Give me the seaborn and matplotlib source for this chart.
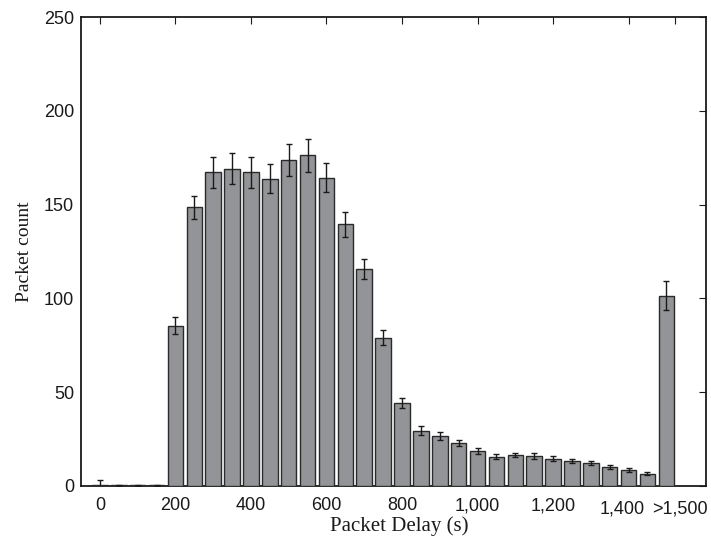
import matplotlib
matplotlib.use("Agg")
import matplotlib.pyplot as plt
from matplotlib.transforms import ScaledTranslation
import seaborn as sns
import pandas as pd

delays = [0, 50, 100, 150, 200, 250, 300, 350, 400, 450, 500, 550, 600, 650, 700,
          750, 800, 850, 900, 950, 1000, 1050, 1100, 1150, 1200, 1250, 1300, 1350,
          1400, 1450, 1500]
counts = [0.6, 0.4, 0.4, 0.4, 85.5, 148.5, 167.2, 169.1, 167.2, 163.8, 173.8, 176.3,
          164.3, 139.5, 115.7, 79.0, 44.4, 29.5, 26.5, 23.1, 18.7, 15.6, 16.4, 16.0,
          14.6, 13.2, 12.3, 10.1, 8.4, 6.6, 101.4]
errors = [2.5, 0.3, 0.3, 0.3, 4.4, 6.2, 8.3, 8.2, 8.3, 7.8, 8.3, 8.7, 7.8, 6.7, 5.4,
          4.0, 2.6, 2.4, 2.2, 1.6, 1.5, 1.4, 1.2, 1.5, 1.2, 1.1, 1.2, 1.0, 1.0, 0.9, 7.8]

xtick_pos = [0, 200, 400, 600, 800, 1000, 1200, 1400, 1522]
xtick_labels = ["0", "200", "400", "600", "800", "1,000", "1,200", "1,400", ">1,500"]
ytick_pos = [0, 50, 100, 150, 200, 250]

sns.set_style("white")
plt.rcParams["font.family"] = ["Liberation Sans", "DejaVu Sans"]

df = pd.DataFrame({"delay": delays, "count": counts})

fig = plt.figure(figsize=(7.11, 5.47), dpi=100)
ax = fig.add_axes([81 / 711, 1 - 486 / 547, (706 - 81) / 711, (486 - 17) / 547])

sns.barplot(data=df, x="delay", y="count", native_scale=True, errorbar=None,
            color="#929497", saturation=1, width=0.82, edgecolor="#2a2a2a",
            linewidth=1.0, ax=ax, zorder=3)
ax.errorbar(delays, counts, yerr=errors, fmt="none", ecolor="#1a1a1a",
            elinewidth=1.0, capsize=2.2, capthick=1.0, zorder=4)

ax.set_xlim(-50, 1605)
ax.set_ylim(0, 250)
ax.set_xticks(xtick_pos)
ax.set_xticklabels(xtick_labels)
ax.set_yticks(ytick_pos)
ax.set_yticklabels([str(v) for v in ytick_pos])

ax.tick_params(axis="x", which="both", direction="in", length=5, top=True,
               bottom=False, labeltop=False, labelbottom=True, labelsize=13,
               pad=8, colors="#1a1a1a")
ax.tick_params(axis="y", direction="in", length=5, right=True, labelsize=13,
               pad=5, colors="#1a1a1a")

for s in ax.spines.values():
    s.set_linewidth(1.3)
    s.set_color("#1a1a1a")
    s.set_visible(True)

labels = ax.get_xticklabels()
labels[-2].set_transform(labels[-2].get_transform() +
                         ScaledTranslation(-6 / 100, -3 / 100, fig.dpi_scale_trans))
labels[-1].set_transform(labels[-1].get_transform() +
                         ScaledTranslation(5 / 100, -3 / 100, fig.dpi_scale_trans))

ax.set_xlabel("Packet Delay (s)", fontfamily="Liberation Serif", fontsize=15,
              color="#1a1a1a")
ax.xaxis.set_label_coords((399 - 81) / (706 - 81), -0.065)
ax.set_ylabel("Packet count", fontfamily="Liberation Serif", fontsize=14,
              labelpad=8, color="#1a1a1a")

fig.savefig("out.png", dpi=100)
